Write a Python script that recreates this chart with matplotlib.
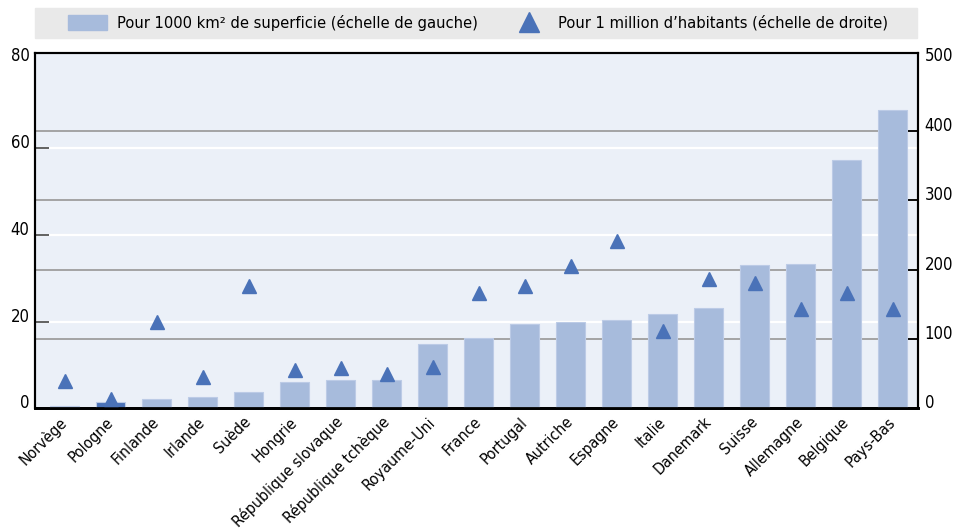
import numpy as np
import matplotlib.pyplot as plt
from matplotlib.patches import Patch, Rectangle
from matplotlib.lines import Line2D

pays = ["Norvège", "Pologne", "Finlande", "Irlande", "Suède", "Hongrie",
        "République slovaque", "République tchèque", "Royaume-Uni", "France",
        "Portugal", "Autriche", "Espagne", "Italie", "Danemark", "Suisse",
        "Allemagne", "Belgique", "Pays-Bas"]
# pour 1000 km2 de superficie (échelle de gauche)
superficie = [0.5, 1.6, 2.1, 2.7, 3.8, 6.0, 6.5, 6.6, 14.8, 16.3,
              19.5, 20.0, 20.3, 21.7, 23.1, 33.0, 33.3, 57.2, 68.8]
# pour 1 million d'habitants (échelle de droite)
habitants = [40, 13, 124, 46, 177, 55, 58, 49, 60, 167,
             176, 205, 241, 111, 187, 181, 144, 166, 143]
highlight = "Pologne"

leg_labels = ["Pour 1000 km² de superficie (échelle de gauche)",
              "Pour 1 million d’habitants (échelle de droite)"]

light = "#A7BBDC"
dark = "#4A72B8"

plt.rcParams['font.family'] = ['DejaVu Sans']
plt.rcParams['font.stretch'] = 'condensed'
plt.rcParams['font.size'] = 12

fig = plt.figure(figsize=(9.54, 5.29), dpi=100)
ax = fig.add_axes([0.0367, 0.2278, 0.9253, 0.6726])
ax.set_facecolor("#EBF0F8")

x = np.arange(len(pays))
colors = [dark if p == highlight else light for p in pays]
ax.bar(x, superficie, width=0.63, color=colors, edgecolor="#BCCBE6",
       linewidth=0.8, zorder=3)
ax.set_xlim(-0.65, len(pays) - 0.46)
ax.set_ylim(0, 82)
ax.set_yticks([0, 20, 40, 60, 80])

ax2 = ax.twinx()
ax2.set_ylim(0, 512.5)
ax2.set_yticks(range(0, 501, 100))

# grid: white lines on left scale, grey lines on right scale (behind bars)
for v in (20, 40, 60):
    ax.axhline(v, color="white", lw=1.6, zorder=1)
ratio = ax.get_ylim()[1] / ax2.get_ylim()[1]
for v in (100, 200, 300, 400):
    ax.axhline(v * ratio, color="#9E9E9E", lw=1.3, zorder=2)

ax2.plot(x, habitants, ls="none", marker="^", ms=10, color=dark, zorder=4)

ax.set_xticks(x)
ax.set_xticklabels(pays, rotation=45, ha="right", va="center",
                   rotation_mode="anchor", fontsize=11.4)
ax.tick_params(axis="x", length=0, pad=8)
ax.tick_params(axis="y", direction="in", length=10, width=1.3,
               color="#555555", pad=4)
ax2.tick_params(axis="y", direction="in", length=7, width=1.3,
                color="black", pad=5)
plt.setp(ax.get_yticklabels(), va="baseline")
plt.setp(ax2.get_yticklabels(), va="baseline")
# no tick mark at the top values, only the labels
for a in (ax, ax2):
    t = a.yaxis.get_major_ticks()[-1]
    t.tick1line.set_visible(False)
    t.tick2line.set_visible(False)

for a in (ax, ax2):
    for s in a.spines.values():
        s.set_linewidth(1.5)
        s.set_color("black")
    a.spines["bottom"].set_linewidth(2)

# legend band
fig.add_artist(Rectangle((35 / 954, 1 - 38 / 529), (917 - 35) / 954, 30 / 529,
                         transform=fig.transFigure, color="#E9E9E9", zorder=0))
handles = [Patch(color=light),
           Line2D([], [], ls="none", marker="^", ms=14, color=dark)]
fig.legend(handles, leg_labels, loc="center",
           bbox_to_anchor=(0.501, 1 - 23 / 529), ncol=2, frameon=False,
           handlelength=2.4, handleheight=1.0, handletextpad=0.6,
           columnspacing=1.9, fontsize=11.8)

fig.savefig("out.png", dpi=100)
